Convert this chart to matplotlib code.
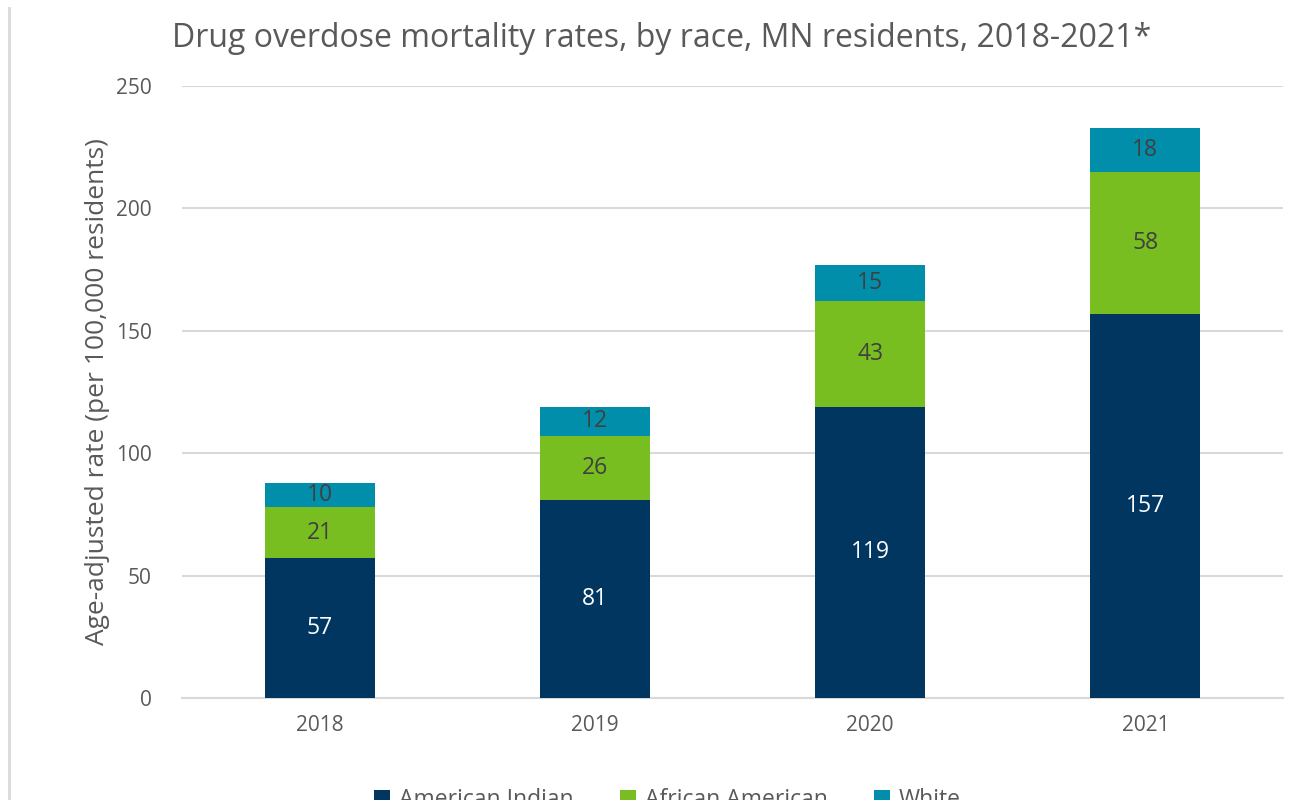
import matplotlib.pyplot as plt
from matplotlib.lines import Line2D

years = ['2018', '2019', '2020', '2021']
american_indian = [57, 81, 119, 157]
african_american = [21, 26, 43, 58]
white = [10, 12, 15, 18]

plt.rcParams['font.family'] = ['Open Sans', 'DejaVu Sans']
GRAY = '#595959'

fig = plt.figure(figsize=(13.04, 8), dpi=100)
ax = fig.add_axes([0.1396, 0.1275, 0.8443, 0.765])

x = list(range(len(years)))
w = 0.4
b1 = ax.bar(x, american_indian, w, color='#003660', label='American Indian', zorder=3)
b2 = ax.bar(x, african_american, w, bottom=american_indian, color='#78BE20',
            label='African American', zorder=3)
bottom3 = [a + b for a, b in zip(american_indian, african_american)]
b3 = ax.bar(x, white, w, bottom=bottom3, color='#008EAA', label='White', zorder=3)

ax.bar_label(b1, labels=[str(v) for v in american_indian], label_type='center',
             color='white', fontsize=16.5)
ax.bar_label(b2, labels=[str(v) for v in african_american], label_type='center',
             color='#404040', fontsize=16.5)
ax.bar_label(b3, labels=[str(v) for v in white], label_type='center',
             color='#404040', fontsize=16.5)

ax.set_xlim(-0.5, 3.5)
ax.set_ylim(0, 250)
ax.set_yticks([0, 50, 100, 150, 200, 250])
ax.set_xticks(x)
ax.set_xticklabels(years)
ax.tick_params(length=0, labelsize=15, colors=GRAY, pad=12)
ax.tick_params(axis='y', pad=22)
ax.grid(axis='y', color='#d9d9d9', linewidth=1.5, zorder=0)
for s in ['top', 'right', 'left']:
    ax.spines[s].set_visible(False)
ax.spines['bottom'].set_color('#d9d9d9')
ax.spines['bottom'].set_linewidth(1.5)

ax.set_ylabel('Age-adjusted rate (per 100,000 residents)', fontsize=19, color=GRAY, labelpad=4)
fig.text(0.507, 0.952, 'Drug overdose mortality rates, by race, MN residents, 2018-2021*',
         ha='center', va='center', fontsize=23, color=GRAY)

fig.legend(handles=[b1, b2, b3], loc='center', bbox_to_anchor=(0.512, 0.0),
           ncol=3, frameon=False, fontsize=16.5, labelcolor=GRAY,
           handlelength=0.7, handleheight=0.7, columnspacing=2.0, handletextpad=0.4)

fig.add_artist(Line2D([0.007, 0.007], [0.0, 0.99], color='#d9d9d9', linewidth=2,
                      transform=fig.transFigure))

fig.savefig('out.png', dpi=100)
